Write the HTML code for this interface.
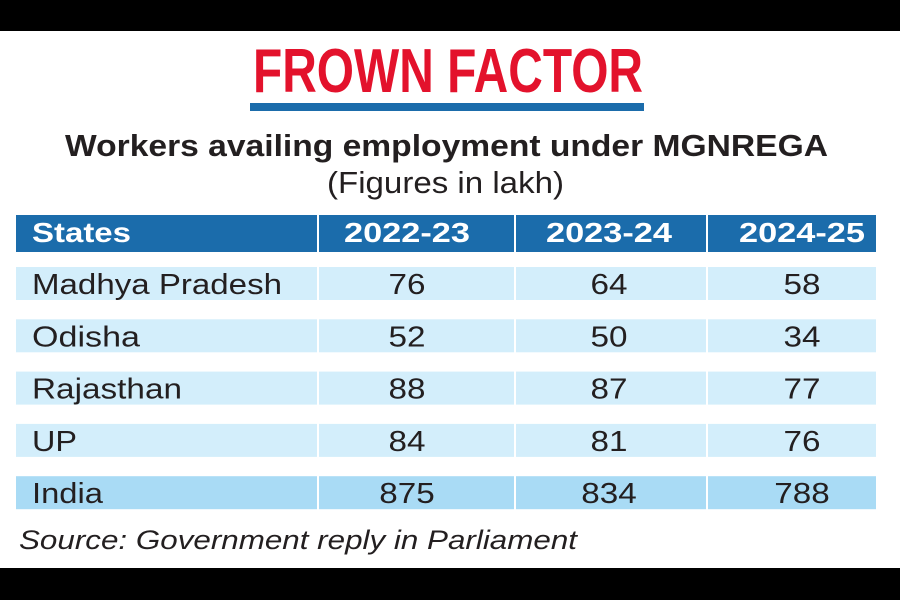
<!DOCTYPE html>
<html><head><meta charset="utf-8"><style>
html,body{margin:0;padding:0;background:#fff;width:900px;height:600px;overflow:hidden}
svg{display:block;font-family:"Liberation Sans",sans-serif}
</style></head><body>
<svg id="chart" width="900" height="600" viewBox="0 0 900 600" xmlns="http://www.w3.org/2000/svg">
<rect x="0" y="0" width="900" height="31" fill="#000"/>
<rect x="0" y="568" width="900" height="32" fill="#000"/>
<text x="253" y="92" font-size="62" font-weight="bold" fill="#e3122c" textLength="390" lengthAdjust="spacingAndGlyphs">FROWN FACTOR</text>
<rect x="250" y="103" width="394" height="8" fill="#1b6cab"/>
<text x="65" y="156" font-size="31" font-weight="bold" fill="#231f20" textLength="763" lengthAdjust="spacingAndGlyphs">Workers availing employment under MGNREGA</text>
<text x="327" y="193" font-size="31" fill="#231f20" textLength="237" lengthAdjust="spacingAndGlyphs">(Figures in lakh)</text>
<g id="table"></g>
<text x="19" y="549" font-size="27" font-style="italic" fill="#231f20" textLength="558" lengthAdjust="spacingAndGlyphs">Source: Government reply in Parliament</text>
</svg>
<script>
const years = ["2022-23","2023-24","2024-25"];
const states = ["Madhya Pradesh","Odisha","Rajasthan","UP","India"];
const values2223 = [76,52,88,84,875];
const values2324 = [64,50,87,81,834];
const values2425 = [58,34,77,76,788];
const stateWidths = [250,108,150,45,71];

const NS="http://www.w3.org/2000/svg";
const g=document.getElementById('table');
const cols=[[16,317],[319,514],[516,706],[708,876]];
const centers=[407,609,802];
function mk(tag,attrs){const e=document.createElementNS(NS,tag);for(const k in attrs)e.setAttribute(k,attrs[k]);g.appendChild(e);return e;}
// header
cols.forEach((c,i)=>{
  const r=mk('rect',{x:c[0],y:215,width:c[1]-c[0],height:37,fill:'#1b6cab'});
  
  
});
let t=mk('text',{x:32,y:242,'font-size':28,'font-weight':'bold',fill:'#fff',textLength:99,lengthAdjust:'spacingAndGlyphs'});
t.textContent='States';


years.forEach((y,i)=>{
  const e=mk('text',{x:centers[i]-63,y:242,'font-size':28,'font-weight':'bold',fill:'#fff',textLength:126,lengthAdjust:'spacingAndGlyphs'});
  e.textContent=y;
  
  
});
const series=[values2223,values2324,values2425];
states.forEach((s,ri)=>{
  const top=267+ri*52.3;
  const fill= ri===states.length-1 ? '#a9dbf5' : '#d3eefb';
  cols.forEach(c=>{
    const r=mk('rect',{x:c[0],y:top,width:c[1]-c[0],height:33,fill:fill});
    
    
  });
  const l=mk('text',{x:32,y:top+27,'font-size':29,fill:'#231f20',textLength:stateWidths[ri],lengthAdjust:'spacingAndGlyphs'});
  l.textContent=s;
  
  
  series.forEach((arr,ci)=>{
    const txt=String(arr[ri]);
    const w=txt.length*18.5;
    const v=mk('text',{x:centers[ci]-w/2,y:top+27,'font-size':29,fill:'#231f20',textLength:w,lengthAdjust:'spacingAndGlyphs'});
    v.textContent=txt;
    
    
  });
});
</script>
</body></html>
